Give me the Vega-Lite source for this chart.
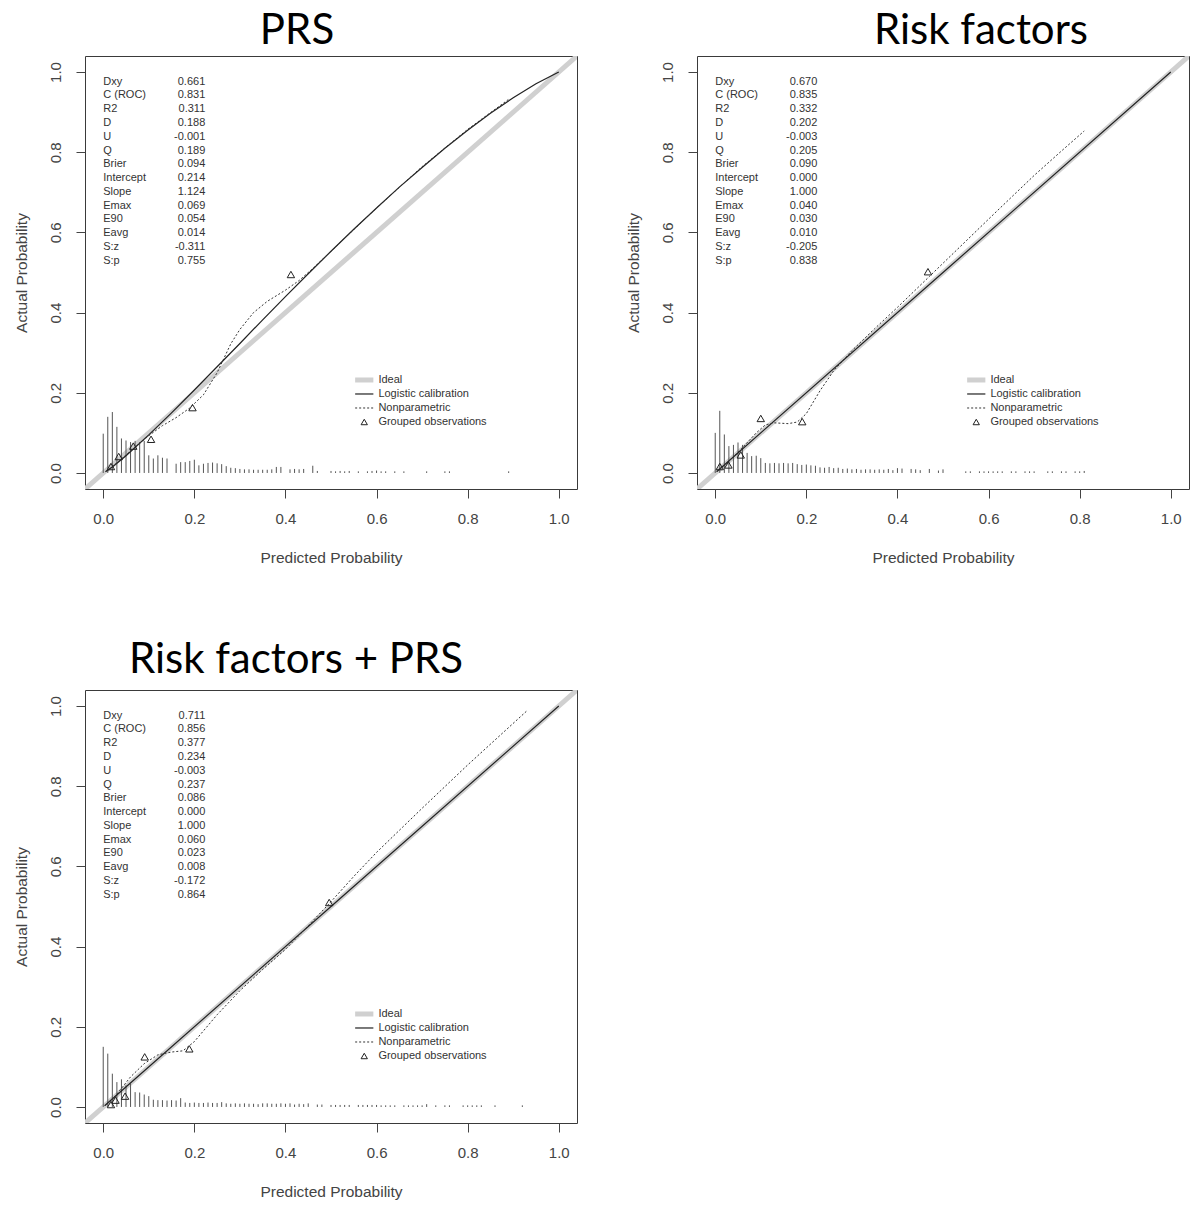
{
  "$schema": "https://vega.github.io/schema/vega-lite/v6.json",
  "padding": {"left": 13, "top": 9, "right": 0, "bottom": 0},
  "columns": 2,
  "spacing": {"row": 72, "column": 47},
  "config": {
    "font": "Liberation Sans",
    "view": {"stroke": "#3a3a3a", "strokeWidth": 1},
    "title": {"font": "Lato", "fontSize": 42, "fontWeight": "normal", "color": "#000000", "anchor": "middle", "baseline": "alphabetic", "frame": "group"},
    "axis": {"domain": false, "grid": false, "ticks": true, "tickSize": 9, "tickColor": "#444444", "labelFont": "Liberation Sans", "labelFontSize": 15, "labelColor": "#444444", "titleFont": "Liberation Sans", "titleFontSize": 15.5, "titleFontWeight": "normal", "titleColor": "#444444"},
    "axisX": {"labelPadding": 13, "titlePadding": 24},
    "axisY": {"labelAngle": -90, "labelAlign": "center", "labelBaseline": "bottom", "labelPadding": 13, "titlePadding": 19}
  },
  "datasets": {
    "ideal": [
      {"x": -0.04, "y": -0.04},
      {"x": 1.04, "y": 1.04}
    ],
    "legend": [
      {"k": 1, "s": "Ideal"},
      {"k": 2, "s": "Logistic calibration"},
      {"k": 3, "s": "Nonparametric"},
      {"k": 4, "s": "Grouped observations"}
    ],
    "curves": [
      {"p": "PRS", "s": "Logistic calibration", "x": 0.005, "y": 0.003},
      {"p": "PRS", "s": "Logistic calibration", "x": 0.02, "y": 0.015},
      {"p": "PRS", "s": "Logistic calibration", "x": 0.05, "y": 0.043},
      {"p": "PRS", "s": "Logistic calibration", "x": 0.1, "y": 0.095},
      {"p": "PRS", "s": "Logistic calibration", "x": 0.15, "y": 0.15},
      {"p": "PRS", "s": "Logistic calibration", "x": 0.2, "y": 0.207},
      {"p": "PRS", "s": "Logistic calibration", "x": 0.25, "y": 0.265},
      {"p": "PRS", "s": "Logistic calibration", "x": 0.3, "y": 0.323},
      {"p": "PRS", "s": "Logistic calibration", "x": 0.35, "y": 0.382},
      {"p": "PRS", "s": "Logistic calibration", "x": 0.4, "y": 0.44},
      {"p": "PRS", "s": "Logistic calibration", "x": 0.45, "y": 0.497},
      {"p": "PRS", "s": "Logistic calibration", "x": 0.5, "y": 0.553},
      {"p": "PRS", "s": "Logistic calibration", "x": 0.55, "y": 0.608},
      {"p": "PRS", "s": "Logistic calibration", "x": 0.6, "y": 0.661},
      {"p": "PRS", "s": "Logistic calibration", "x": 0.65, "y": 0.713},
      {"p": "PRS", "s": "Logistic calibration", "x": 0.7, "y": 0.762},
      {"p": "PRS", "s": "Logistic calibration", "x": 0.75, "y": 0.81},
      {"p": "PRS", "s": "Logistic calibration", "x": 0.8, "y": 0.855},
      {"p": "PRS", "s": "Logistic calibration", "x": 0.85, "y": 0.897},
      {"p": "PRS", "s": "Logistic calibration", "x": 0.9, "y": 0.936},
      {"p": "PRS", "s": "Logistic calibration", "x": 0.95, "y": 0.971},
      {"p": "PRS", "s": "Logistic calibration", "x": 1.0, "y": 1.0},
      {"p": "PRS", "s": "Nonparametric", "x": 0.005, "y": 0.004},
      {"p": "PRS", "s": "Nonparametric", "x": 0.03, "y": 0.025},
      {"p": "PRS", "s": "Nonparametric", "x": 0.06, "y": 0.055},
      {"p": "PRS", "s": "Nonparametric", "x": 0.1, "y": 0.093},
      {"p": "PRS", "s": "Nonparametric", "x": 0.13, "y": 0.118},
      {"p": "PRS", "s": "Nonparametric", "x": 0.16, "y": 0.138},
      {"p": "PRS", "s": "Nonparametric", "x": 0.19, "y": 0.162},
      {"p": "PRS", "s": "Nonparametric", "x": 0.22, "y": 0.195},
      {"p": "PRS", "s": "Nonparametric", "x": 0.25, "y": 0.25},
      {"p": "PRS", "s": "Nonparametric", "x": 0.28, "y": 0.322},
      {"p": "PRS", "s": "Nonparametric", "x": 0.3, "y": 0.358},
      {"p": "PRS", "s": "Nonparametric", "x": 0.33, "y": 0.4},
      {"p": "PRS", "s": "Nonparametric", "x": 0.36, "y": 0.428},
      {"p": "PRS", "s": "Nonparametric", "x": 0.4, "y": 0.456},
      {"p": "PRS", "s": "Nonparametric", "x": 0.43, "y": 0.48},
      {"p": "PRS", "s": "Nonparametric", "x": 0.46, "y": 0.51},
      {"p": "PRS", "s": "Nonparametric", "x": 0.5, "y": 0.553},
      {"p": "PRS", "s": "Nonparametric", "x": 0.6, "y": 0.661},
      {"p": "PRS", "s": "Nonparametric", "x": 0.7, "y": 0.764},
      {"p": "PRS", "s": "Nonparametric", "x": 0.8, "y": 0.857},
      {"p": "PRS", "s": "Nonparametric", "x": 0.89, "y": 0.932},
      {"p": "RF", "s": "Logistic calibration", "x": 0.003, "y": 0.003},
      {"p": "RF", "s": "Logistic calibration", "x": 0.5, "y": 0.5},
      {"p": "RF", "s": "Logistic calibration", "x": 1.0, "y": 1.0},
      {"p": "RF", "s": "Nonparametric", "x": 0.005, "y": 0.004},
      {"p": "RF", "s": "Nonparametric", "x": 0.03, "y": 0.03},
      {"p": "RF", "s": "Nonparametric", "x": 0.06, "y": 0.063},
      {"p": "RF", "s": "Nonparametric", "x": 0.09, "y": 0.1},
      {"p": "RF", "s": "Nonparametric", "x": 0.11, "y": 0.12},
      {"p": "RF", "s": "Nonparametric", "x": 0.13, "y": 0.125},
      {"p": "RF", "s": "Nonparametric", "x": 0.16, "y": 0.123},
      {"p": "RF", "s": "Nonparametric", "x": 0.18, "y": 0.127},
      {"p": "RF", "s": "Nonparametric", "x": 0.2, "y": 0.148},
      {"p": "RF", "s": "Nonparametric", "x": 0.23, "y": 0.205},
      {"p": "RF", "s": "Nonparametric", "x": 0.26, "y": 0.255},
      {"p": "RF", "s": "Nonparametric", "x": 0.3, "y": 0.305},
      {"p": "RF", "s": "Nonparametric", "x": 0.35, "y": 0.36},
      {"p": "RF", "s": "Nonparametric", "x": 0.4, "y": 0.413},
      {"p": "RF", "s": "Nonparametric", "x": 0.47, "y": 0.49},
      {"p": "RF", "s": "Nonparametric", "x": 0.55, "y": 0.578},
      {"p": "RF", "s": "Nonparametric", "x": 0.62, "y": 0.655},
      {"p": "RF", "s": "Nonparametric", "x": 0.7, "y": 0.742},
      {"p": "RF", "s": "Nonparametric", "x": 0.76, "y": 0.803},
      {"p": "RF", "s": "Nonparametric", "x": 0.81, "y": 0.853},
      {"p": "RFPRS", "s": "Logistic calibration", "x": 0.003, "y": 0.003},
      {"p": "RFPRS", "s": "Logistic calibration", "x": 0.5, "y": 0.5},
      {"p": "RFPRS", "s": "Logistic calibration", "x": 1.0, "y": 1.0},
      {"p": "RFPRS", "s": "Nonparametric", "x": 0.005, "y": 0.004},
      {"p": "RFPRS", "s": "Nonparametric", "x": 0.03, "y": 0.032},
      {"p": "RFPRS", "s": "Nonparametric", "x": 0.06, "y": 0.075},
      {"p": "RFPRS", "s": "Nonparametric", "x": 0.09, "y": 0.108},
      {"p": "RFPRS", "s": "Nonparametric", "x": 0.12, "y": 0.13},
      {"p": "RFPRS", "s": "Nonparametric", "x": 0.15, "y": 0.137},
      {"p": "RFPRS", "s": "Nonparametric", "x": 0.175, "y": 0.14},
      {"p": "RFPRS", "s": "Nonparametric", "x": 0.2, "y": 0.163},
      {"p": "RFPRS", "s": "Nonparametric", "x": 0.25, "y": 0.23},
      {"p": "RFPRS", "s": "Nonparametric", "x": 0.3, "y": 0.29},
      {"p": "RFPRS", "s": "Nonparametric", "x": 0.35, "y": 0.343},
      {"p": "RFPRS", "s": "Nonparametric", "x": 0.4, "y": 0.393},
      {"p": "RFPRS", "s": "Nonparametric", "x": 0.45, "y": 0.452},
      {"p": "RFPRS", "s": "Nonparametric", "x": 0.5, "y": 0.512},
      {"p": "RFPRS", "s": "Nonparametric", "x": 0.55, "y": 0.575},
      {"p": "RFPRS", "s": "Nonparametric", "x": 0.6, "y": 0.635},
      {"p": "RFPRS", "s": "Nonparametric", "x": 0.7, "y": 0.745},
      {"p": "RFPRS", "s": "Nonparametric", "x": 0.8, "y": 0.853},
      {"p": "RFPRS", "s": "Nonparametric", "x": 0.93, "y": 0.988}
    ],
    "groups": [
      {"p": "PRS", "x": 0.017, "y": 0.016},
      {"p": "PRS", "x": 0.034, "y": 0.041},
      {"p": "PRS", "x": 0.066, "y": 0.067},
      {"p": "PRS", "x": 0.105, "y": 0.084},
      {"p": "PRS", "x": 0.196, "y": 0.163},
      {"p": "PRS", "x": 0.412, "y": 0.495},
      {"p": "RF", "x": 0.01, "y": 0.016},
      {"p": "RF", "x": 0.029, "y": 0.02},
      {"p": "RF", "x": 0.056, "y": 0.045},
      {"p": "RF", "x": 0.1, "y": 0.136},
      {"p": "RF", "x": 0.191, "y": 0.128},
      {"p": "RF", "x": 0.467, "y": 0.502},
      {"p": "RFPRS", "x": 0.017, "y": 0.006},
      {"p": "RFPRS", "x": 0.027, "y": 0.017},
      {"p": "RFPRS", "x": 0.048, "y": 0.027},
      {"p": "RFPRS", "x": 0.091, "y": 0.125},
      {"p": "RFPRS", "x": 0.189, "y": 0.145},
      {"p": "RFPRS", "x": 0.496, "y": 0.51}
    ],
    "spikes": [
      {"p": "PRS", "x": 0.0, "h": 0.098}, {"p": "PRS", "x": 0.01, "h": 0.14}, {"p": "PRS", "x": 0.02, "h": 0.152}, {"p": "PRS", "x": 0.03, "h": 0.115},
      {"p": "PRS", "x": 0.04, "h": 0.086}, {"p": "PRS", "x": 0.05, "h": 0.081}, {"p": "PRS", "x": 0.06, "h": 0.077}, {"p": "PRS", "x": 0.07, "h": 0.08},
      {"p": "PRS", "x": 0.08, "h": 0.077}, {"p": "PRS", "x": 0.09, "h": 0.08}, {"p": "PRS", "x": 0.1, "h": 0.044}, {"p": "PRS", "x": 0.11, "h": 0.036},
      {"p": "PRS", "x": 0.12, "h": 0.044}, {"p": "PRS", "x": 0.13, "h": 0.038}, {"p": "PRS", "x": 0.14, "h": 0.036}, {"p": "PRS", "x": 0.16, "h": 0.023},
      {"p": "PRS", "x": 0.17, "h": 0.027}, {"p": "PRS", "x": 0.18, "h": 0.027}, {"p": "PRS", "x": 0.19, "h": 0.03}, {"p": "PRS", "x": 0.2, "h": 0.033},
      {"p": "PRS", "x": 0.21, "h": 0.019}, {"p": "PRS", "x": 0.22, "h": 0.023}, {"p": "PRS", "x": 0.23, "h": 0.025}, {"p": "PRS", "x": 0.24, "h": 0.026},
      {"p": "PRS", "x": 0.25, "h": 0.024}, {"p": "PRS", "x": 0.26, "h": 0.022}, {"p": "PRS", "x": 0.27, "h": 0.017}, {"p": "PRS", "x": 0.28, "h": 0.013},
      {"p": "PRS", "x": 0.29, "h": 0.012}, {"p": "PRS", "x": 0.3, "h": 0.01}, {"p": "PRS", "x": 0.31, "h": 0.009}, {"p": "PRS", "x": 0.32, "h": 0.009},
      {"p": "PRS", "x": 0.33, "h": 0.008}, {"p": "PRS", "x": 0.34, "h": 0.008}, {"p": "PRS", "x": 0.35, "h": 0.008}, {"p": "PRS", "x": 0.36, "h": 0.008},
      {"p": "PRS", "x": 0.37, "h": 0.009}, {"p": "PRS", "x": 0.38, "h": 0.015}, {"p": "PRS", "x": 0.39, "h": 0.015}, {"p": "PRS", "x": 0.41, "h": 0.009},
      {"p": "PRS", "x": 0.42, "h": 0.01}, {"p": "PRS", "x": 0.43, "h": 0.009}, {"p": "PRS", "x": 0.44, "h": 0.01}, {"p": "PRS", "x": 0.46, "h": 0.018},
      {"p": "PRS", "x": 0.47, "h": 0.005}, {"p": "PRS", "x": 0.5, "h": 0.005}, {"p": "PRS", "x": 0.51, "h": 0.004}, {"p": "PRS", "x": 0.52, "h": 0.005},
      {"p": "PRS", "x": 0.53, "h": 0.004}, {"p": "PRS", "x": 0.54, "h": 0.005}, {"p": "PRS", "x": 0.56, "h": 0.004}, {"p": "PRS", "x": 0.58, "h": 0.004},
      {"p": "PRS", "x": 0.59, "h": 0.005}, {"p": "PRS", "x": 0.6, "h": 0.006}, {"p": "PRS", "x": 0.61, "h": 0.004}, {"p": "PRS", "x": 0.62, "h": 0.004},
      {"p": "PRS", "x": 0.64, "h": 0.004}, {"p": "PRS", "x": 0.66, "h": 0.004}, {"p": "PRS", "x": 0.71, "h": 0.004}, {"p": "PRS", "x": 0.75, "h": 0.004},
      {"p": "PRS", "x": 0.76, "h": 0.004}, {"p": "PRS", "x": 0.89, "h": 0.004},
      {"p": "RF", "x": 0.0, "h": 0.1}, {"p": "RF", "x": 0.01, "h": 0.155}, {"p": "RF", "x": 0.02, "h": 0.096}, {"p": "RF", "x": 0.03, "h": 0.067},
      {"p": "RF", "x": 0.04, "h": 0.07}, {"p": "RF", "x": 0.05, "h": 0.076}, {"p": "RF", "x": 0.06, "h": 0.07}, {"p": "RF", "x": 0.07, "h": 0.05},
      {"p": "RF", "x": 0.08, "h": 0.042}, {"p": "RF", "x": 0.09, "h": 0.043}, {"p": "RF", "x": 0.1, "h": 0.037}, {"p": "RF", "x": 0.11, "h": 0.025},
      {"p": "RF", "x": 0.12, "h": 0.024}, {"p": "RF", "x": 0.13, "h": 0.025}, {"p": "RF", "x": 0.14, "h": 0.024}, {"p": "RF", "x": 0.15, "h": 0.025},
      {"p": "RF", "x": 0.16, "h": 0.024}, {"p": "RF", "x": 0.17, "h": 0.025}, {"p": "RF", "x": 0.18, "h": 0.022}, {"p": "RF", "x": 0.19, "h": 0.02},
      {"p": "RF", "x": 0.2, "h": 0.021}, {"p": "RF", "x": 0.21, "h": 0.019}, {"p": "RF", "x": 0.22, "h": 0.018}, {"p": "RF", "x": 0.23, "h": 0.014},
      {"p": "RF", "x": 0.24, "h": 0.013}, {"p": "RF", "x": 0.25, "h": 0.015}, {"p": "RF", "x": 0.26, "h": 0.012}, {"p": "RF", "x": 0.27, "h": 0.013},
      {"p": "RF", "x": 0.28, "h": 0.01}, {"p": "RF", "x": 0.29, "h": 0.011}, {"p": "RF", "x": 0.3, "h": 0.009}, {"p": "RF", "x": 0.31, "h": 0.01},
      {"p": "RF", "x": 0.32, "h": 0.008}, {"p": "RF", "x": 0.33, "h": 0.009}, {"p": "RF", "x": 0.34, "h": 0.009}, {"p": "RF", "x": 0.35, "h": 0.008},
      {"p": "RF", "x": 0.36, "h": 0.009}, {"p": "RF", "x": 0.37, "h": 0.008}, {"p": "RF", "x": 0.38, "h": 0.01}, {"p": "RF", "x": 0.39, "h": 0.007},
      {"p": "RF", "x": 0.4, "h": 0.012}, {"p": "RF", "x": 0.41, "h": 0.011}, {"p": "RF", "x": 0.43, "h": 0.01}, {"p": "RF", "x": 0.44, "h": 0.009},
      {"p": "RF", "x": 0.45, "h": 0.007}, {"p": "RF", "x": 0.47, "h": 0.01}, {"p": "RF", "x": 0.49, "h": 0.006}, {"p": "RF", "x": 0.5, "h": 0.009},
      {"p": "RF", "x": 0.55, "h": 0.004}, {"p": "RF", "x": 0.56, "h": 0.004}, {"p": "RF", "x": 0.58, "h": 0.004}, {"p": "RF", "x": 0.59, "h": 0.004},
      {"p": "RF", "x": 0.6, "h": 0.004}, {"p": "RF", "x": 0.61, "h": 0.004}, {"p": "RF", "x": 0.62, "h": 0.004}, {"p": "RF", "x": 0.63, "h": 0.004},
      {"p": "RF", "x": 0.65, "h": 0.004}, {"p": "RF", "x": 0.66, "h": 0.004}, {"p": "RF", "x": 0.68, "h": 0.004}, {"p": "RF", "x": 0.69, "h": 0.004},
      {"p": "RF", "x": 0.7, "h": 0.004}, {"p": "RF", "x": 0.73, "h": 0.004}, {"p": "RF", "x": 0.74, "h": 0.004}, {"p": "RF", "x": 0.76, "h": 0.004},
      {"p": "RF", "x": 0.77, "h": 0.004}, {"p": "RF", "x": 0.79, "h": 0.004}, {"p": "RF", "x": 0.8, "h": 0.004}, {"p": "RF", "x": 0.81, "h": 0.005},
      {"p": "RFPRS", "x": 0.0, "h": 0.15}, {"p": "RFPRS", "x": 0.01, "h": 0.133}, {"p": "RFPRS", "x": 0.02, "h": 0.083}, {"p": "RFPRS", "x": 0.03, "h": 0.062},
      {"p": "RFPRS", "x": 0.04, "h": 0.069}, {"p": "RFPRS", "x": 0.05, "h": 0.054}, {"p": "RFPRS", "x": 0.06, "h": 0.058}, {"p": "RFPRS", "x": 0.07, "h": 0.037},
      {"p": "RFPRS", "x": 0.08, "h": 0.036}, {"p": "RFPRS", "x": 0.09, "h": 0.031}, {"p": "RFPRS", "x": 0.1, "h": 0.027}, {"p": "RFPRS", "x": 0.11, "h": 0.018},
      {"p": "RFPRS", "x": 0.12, "h": 0.017}, {"p": "RFPRS", "x": 0.13, "h": 0.017}, {"p": "RFPRS", "x": 0.14, "h": 0.016}, {"p": "RFPRS", "x": 0.15, "h": 0.017},
      {"p": "RFPRS", "x": 0.16, "h": 0.016}, {"p": "RFPRS", "x": 0.17, "h": 0.022}, {"p": "RFPRS", "x": 0.18, "h": 0.011}, {"p": "RFPRS", "x": 0.19, "h": 0.01},
      {"p": "RFPRS", "x": 0.2, "h": 0.011}, {"p": "RFPRS", "x": 0.21, "h": 0.01}, {"p": "RFPRS", "x": 0.22, "h": 0.01}, {"p": "RFPRS", "x": 0.23, "h": 0.011},
      {"p": "RFPRS", "x": 0.24, "h": 0.01}, {"p": "RFPRS", "x": 0.25, "h": 0.01}, {"p": "RFPRS", "x": 0.26, "h": 0.012}, {"p": "RFPRS", "x": 0.27, "h": 0.009},
      {"p": "RFPRS", "x": 0.28, "h": 0.008}, {"p": "RFPRS", "x": 0.29, "h": 0.009}, {"p": "RFPRS", "x": 0.3, "h": 0.008}, {"p": "RFPRS", "x": 0.31, "h": 0.009},
      {"p": "RFPRS", "x": 0.32, "h": 0.008}, {"p": "RFPRS", "x": 0.33, "h": 0.008}, {"p": "RFPRS", "x": 0.34, "h": 0.007}, {"p": "RFPRS", "x": 0.35, "h": 0.009},
      {"p": "RFPRS", "x": 0.36, "h": 0.009}, {"p": "RFPRS", "x": 0.37, "h": 0.008}, {"p": "RFPRS", "x": 0.38, "h": 0.008}, {"p": "RFPRS", "x": 0.39, "h": 0.009},
      {"p": "RFPRS", "x": 0.4, "h": 0.008}, {"p": "RFPRS", "x": 0.41, "h": 0.009}, {"p": "RFPRS", "x": 0.42, "h": 0.006}, {"p": "RFPRS", "x": 0.43, "h": 0.008},
      {"p": "RFPRS", "x": 0.44, "h": 0.007}, {"p": "RFPRS", "x": 0.45, "h": 0.009}, {"p": "RFPRS", "x": 0.47, "h": 0.006}, {"p": "RFPRS", "x": 0.48, "h": 0.006},
      {"p": "RFPRS", "x": 0.5, "h": 0.005}, {"p": "RFPRS", "x": 0.51, "h": 0.005}, {"p": "RFPRS", "x": 0.52, "h": 0.005}, {"p": "RFPRS", "x": 0.53, "h": 0.005},
      {"p": "RFPRS", "x": 0.54, "h": 0.005}, {"p": "RFPRS", "x": 0.56, "h": 0.005}, {"p": "RFPRS", "x": 0.57, "h": 0.005}, {"p": "RFPRS", "x": 0.58, "h": 0.005},
      {"p": "RFPRS", "x": 0.59, "h": 0.005}, {"p": "RFPRS", "x": 0.6, "h": 0.005}, {"p": "RFPRS", "x": 0.61, "h": 0.004}, {"p": "RFPRS", "x": 0.62, "h": 0.004},
      {"p": "RFPRS", "x": 0.63, "h": 0.004}, {"p": "RFPRS", "x": 0.64, "h": 0.004}, {"p": "RFPRS", "x": 0.66, "h": 0.004}, {"p": "RFPRS", "x": 0.67, "h": 0.004},
      {"p": "RFPRS", "x": 0.68, "h": 0.004}, {"p": "RFPRS", "x": 0.69, "h": 0.004}, {"p": "RFPRS", "x": 0.7, "h": 0.004}, {"p": "RFPRS", "x": 0.71, "h": 0.007},
      {"p": "RFPRS", "x": 0.73, "h": 0.004}, {"p": "RFPRS", "x": 0.75, "h": 0.004}, {"p": "RFPRS", "x": 0.76, "h": 0.004}, {"p": "RFPRS", "x": 0.79, "h": 0.004},
      {"p": "RFPRS", "x": 0.8, "h": 0.004}, {"p": "RFPRS", "x": 0.81, "h": 0.004}, {"p": "RFPRS", "x": 0.82, "h": 0.004}, {"p": "RFPRS", "x": 0.83, "h": 0.004},
      {"p": "RFPRS", "x": 0.86, "h": 0.004}, {"p": "RFPRS", "x": 0.92, "h": 0.004}
    ],
    "stats": [
      {"p": "PRS", "r": 1, "n": "Dxy", "v": "0.661"}, {"p": "PRS", "r": 2, "n": "C (ROC)", "v": "0.831"}, {"p": "PRS", "r": 3, "n": "R2", "v": "0.311"},
      {"p": "PRS", "r": 4, "n": "D", "v": "0.188"}, {"p": "PRS", "r": 5, "n": "U", "v": "-0.001"}, {"p": "PRS", "r": 6, "n": "Q", "v": "0.189"},
      {"p": "PRS", "r": 7, "n": "Brier", "v": "0.094"}, {"p": "PRS", "r": 8, "n": "Intercept", "v": "0.214"}, {"p": "PRS", "r": 9, "n": "Slope", "v": "1.124"},
      {"p": "PRS", "r": 10, "n": "Emax", "v": "0.069"}, {"p": "PRS", "r": 11, "n": "E90", "v": "0.054"}, {"p": "PRS", "r": 12, "n": "Eavg", "v": "0.014"},
      {"p": "PRS", "r": 13, "n": "S:z", "v": "-0.311"}, {"p": "PRS", "r": 14, "n": "S:p", "v": "0.755"},
      {"p": "RF", "r": 1, "n": "Dxy", "v": "0.670"}, {"p": "RF", "r": 2, "n": "C (ROC)", "v": "0.835"}, {"p": "RF", "r": 3, "n": "R2", "v": "0.332"},
      {"p": "RF", "r": 4, "n": "D", "v": "0.202"}, {"p": "RF", "r": 5, "n": "U", "v": "-0.003"}, {"p": "RF", "r": 6, "n": "Q", "v": "0.205"},
      {"p": "RF", "r": 7, "n": "Brier", "v": "0.090"}, {"p": "RF", "r": 8, "n": "Intercept", "v": "0.000"}, {"p": "RF", "r": 9, "n": "Slope", "v": "1.000"},
      {"p": "RF", "r": 10, "n": "Emax", "v": "0.040"}, {"p": "RF", "r": 11, "n": "E90", "v": "0.030"}, {"p": "RF", "r": 12, "n": "Eavg", "v": "0.010"},
      {"p": "RF", "r": 13, "n": "S:z", "v": "-0.205"}, {"p": "RF", "r": 14, "n": "S:p", "v": "0.838"},
      {"p": "RFPRS", "r": 1, "n": "Dxy", "v": "0.711"}, {"p": "RFPRS", "r": 2, "n": "C (ROC)", "v": "0.856"}, {"p": "RFPRS", "r": 3, "n": "R2", "v": "0.377"},
      {"p": "RFPRS", "r": 4, "n": "D", "v": "0.234"}, {"p": "RFPRS", "r": 5, "n": "U", "v": "-0.003"}, {"p": "RFPRS", "r": 6, "n": "Q", "v": "0.237"},
      {"p": "RFPRS", "r": 7, "n": "Brier", "v": "0.086"}, {"p": "RFPRS", "r": 8, "n": "Intercept", "v": "0.000"}, {"p": "RFPRS", "r": 9, "n": "Slope", "v": "1.000"},
      {"p": "RFPRS", "r": 10, "n": "Emax", "v": "0.060"}, {"p": "RFPRS", "r": 11, "n": "E90", "v": "0.023"}, {"p": "RFPRS", "r": 12, "n": "Eavg", "v": "0.008"},
      {"p": "RFPRS", "r": 13, "n": "S:z", "v": "-0.172"}, {"p": "RFPRS", "r": 14, "n": "S:p", "v": "0.864"}
    ]
  },
  "concat": [
    {
      "width": 492, "height": 433,
      "title": {"text": "PRS", "dx": -34, "offset": 3},
      "resolve": {"scale": {"y": "independent"}},
      "layer": [
        {
          "layer": [
            {
              "data": {"name": "ideal"},
              "mark": {"type": "line", "strokeWidth": 5, "color": "#d0d0d0", "clip": true},
              "encoding": {
                "x": {"field": "x", "type": "quantitative", "scale": {"domain": [-0.04, 1.04], "nice": false, "zero": false}, "axis": {"values": [0, 0.2, 0.4, 0.6, 0.8, 1], "format": ".1f", "title": "Predicted Probability"}},
                "y": {"field": "y", "type": "quantitative", "scale": {"domain": [-0.04, 1.04], "nice": false, "zero": false}, "axis": {"values": [0, 0.2, 0.4, 0.6, 0.8, 1], "format": ".1f", "title": "Actual Probability"}}
              }
            },
            {
              "data": {"name": "spikes"}, "transform": [{"filter": "datum.p === 'PRS'"}],
              "mark": {"type": "rule", "color": "#555555", "strokeWidth": 1},
              "encoding": {"x": {"field": "x", "type": "quantitative"}, "y": {"field": "h", "type": "quantitative"}, "y2": {"datum": 0}}
            },
            {
              "data": {"name": "curves"}, "transform": [{"filter": "datum.p === 'PRS' && datum.s === 'Logistic calibration'"}],
              "mark": {"type": "line", "color": "#222222", "strokeWidth": 1.2},
              "encoding": {"x": {"field": "x", "type": "quantitative"}, "y": {"field": "y", "type": "quantitative"}}
            },
            {
              "data": {"name": "curves"}, "transform": [{"filter": "datum.p === 'PRS' && datum.s === 'Nonparametric'"}],
              "mark": {"type": "line", "color": "#333333", "strokeWidth": 1, "strokeDash": [2, 2]},
              "encoding": {"x": {"field": "x", "type": "quantitative"}, "y": {"field": "y", "type": "quantitative"}}
            },
            {
              "data": {"name": "groups"}, "transform": [{"filter": "datum.p === 'PRS'"}],
              "mark": {"type": "point", "shape": "triangle-up", "filled": false, "color": "#222222", "size": 55, "strokeWidth": 1, "opacity": 1},
              "encoding": {"x": {"field": "x", "type": "quantitative"}, "y": {"field": "y", "type": "quantitative"}}
            }
          ]
        },
        {
          "data": {"name": "stats"}, "transform": [{"filter": "datum.p === 'PRS'"}],
          "layer": [
            {
              "mark": {"type": "text", "align": "left", "baseline": "middle", "font": "Liberation Sans", "fontSize": 11, "color": "#333333"},
              "encoding": {"x": {"datum": 0, "type": "quantitative"}, "y": {"field": "r", "type": "quantitative", "scale": {"domain": [-0.866, 30.58], "reverse": true, "nice": false, "zero": false}, "axis": null}, "text": {"field": "n"}}
            },
            {
              "mark": {"type": "text", "align": "right", "baseline": "middle", "font": "Liberation Sans", "fontSize": 11, "color": "#333333"},
              "encoding": {"x": {"datum": 0.224, "type": "quantitative"}, "y": {"field": "r", "type": "quantitative", "axis": null}, "text": {"field": "v"}}
            }
          ]
        },
        {
          "data": {"name": "legend"},
          "layer": [
            {
              "transform": [{"filter": "datum.s === 'Ideal'"}],
              "mark": {"type": "rule", "color": "#d0d0d0", "strokeWidth": 5},
              "encoding": {"x": {"datum": 0.553, "type": "quantitative"}, "x2": {"datum": 0.593}, "y": {"field": "k", "type": "quantitative", "scale": {"domain": [-22.14, 8.786], "reverse": true, "nice": false, "zero": false}, "axis": null}}
            },
            {
              "transform": [{"filter": "datum.s === 'Logistic calibration'"}],
              "mark": {"type": "rule", "color": "#222222", "strokeWidth": 1.2},
              "encoding": {"x": {"datum": 0.553, "type": "quantitative"}, "x2": {"datum": 0.593}, "y": {"field": "k", "type": "quantitative", "axis": null}}
            },
            {
              "transform": [{"filter": "datum.s === 'Nonparametric'"}],
              "mark": {"type": "rule", "color": "#333333", "strokeWidth": 1, "strokeDash": [2, 2]},
              "encoding": {"x": {"datum": 0.553, "type": "quantitative"}, "x2": {"datum": 0.593}, "y": {"field": "k", "type": "quantitative", "axis": null}}
            },
            {
              "transform": [{"filter": "datum.s === 'Grouped observations'"}],
              "mark": {"type": "point", "shape": "triangle-up", "filled": false, "color": "#222222", "size": 40, "strokeWidth": 1, "opacity": 1},
              "encoding": {"x": {"datum": 0.573, "type": "quantitative"}, "y": {"field": "k", "type": "quantitative", "axis": null}}
            },
            {
              "mark": {"type": "text", "align": "left", "baseline": "middle", "font": "Liberation Sans", "fontSize": 11, "color": "#333333"},
              "encoding": {"x": {"datum": 0.604, "type": "quantitative"}, "y": {"field": "k", "type": "quantitative", "axis": null}, "text": {"field": "s"}}
            }
          ]
        }
      ]
    },
    {
      "width": 492, "height": 433,
      "title": {"text": "Risk factors", "dx": 38, "offset": 3},
      "resolve": {"scale": {"y": "independent"}},
      "layer": [
        {
          "layer": [
            {
              "data": {"name": "ideal"},
              "mark": {"type": "line", "strokeWidth": 5, "color": "#d0d0d0", "clip": true},
              "encoding": {
                "x": {"field": "x", "type": "quantitative", "scale": {"domain": [-0.04, 1.04], "nice": false, "zero": false}, "axis": {"values": [0, 0.2, 0.4, 0.6, 0.8, 1], "format": ".1f", "title": "Predicted Probability"}},
                "y": {"field": "y", "type": "quantitative", "scale": {"domain": [-0.04, 1.04], "nice": false, "zero": false}, "axis": {"values": [0, 0.2, 0.4, 0.6, 0.8, 1], "format": ".1f", "title": "Actual Probability"}}
              }
            },
            {
              "data": {"name": "spikes"}, "transform": [{"filter": "datum.p === 'RF'"}],
              "mark": {"type": "rule", "color": "#555555", "strokeWidth": 1},
              "encoding": {"x": {"field": "x", "type": "quantitative"}, "y": {"field": "h", "type": "quantitative"}, "y2": {"datum": 0}}
            },
            {
              "data": {"name": "curves"}, "transform": [{"filter": "datum.p === 'RF' && datum.s === 'Logistic calibration'"}],
              "mark": {"type": "line", "color": "#222222", "strokeWidth": 1.2},
              "encoding": {"x": {"field": "x", "type": "quantitative"}, "y": {"field": "y", "type": "quantitative"}}
            },
            {
              "data": {"name": "curves"}, "transform": [{"filter": "datum.p === 'RF' && datum.s === 'Nonparametric'"}],
              "mark": {"type": "line", "color": "#333333", "strokeWidth": 1, "strokeDash": [2, 2]},
              "encoding": {"x": {"field": "x", "type": "quantitative"}, "y": {"field": "y", "type": "quantitative"}}
            },
            {
              "data": {"name": "groups"}, "transform": [{"filter": "datum.p === 'RF'"}],
              "mark": {"type": "point", "shape": "triangle-up", "filled": false, "color": "#222222", "size": 55, "strokeWidth": 1, "opacity": 1},
              "encoding": {"x": {"field": "x", "type": "quantitative"}, "y": {"field": "y", "type": "quantitative"}}
            }
          ]
        },
        {
          "data": {"name": "stats"}, "transform": [{"filter": "datum.p === 'RF'"}],
          "layer": [
            {
              "mark": {"type": "text", "align": "left", "baseline": "middle", "font": "Liberation Sans", "fontSize": 11, "color": "#333333"},
              "encoding": {"x": {"datum": 0, "type": "quantitative"}, "y": {"field": "r", "type": "quantitative", "scale": {"domain": [-0.866, 30.58], "reverse": true, "nice": false, "zero": false}, "axis": null}, "text": {"field": "n"}}
            },
            {
              "mark": {"type": "text", "align": "right", "baseline": "middle", "font": "Liberation Sans", "fontSize": 11, "color": "#333333"},
              "encoding": {"x": {"datum": 0.224, "type": "quantitative"}, "y": {"field": "r", "type": "quantitative", "axis": null}, "text": {"field": "v"}}
            }
          ]
        },
        {
          "data": {"name": "legend"},
          "layer": [
            {
              "transform": [{"filter": "datum.s === 'Ideal'"}],
              "mark": {"type": "rule", "color": "#d0d0d0", "strokeWidth": 5},
              "encoding": {"x": {"datum": 0.553, "type": "quantitative"}, "x2": {"datum": 0.593}, "y": {"field": "k", "type": "quantitative", "scale": {"domain": [-22.14, 8.786], "reverse": true, "nice": false, "zero": false}, "axis": null}}
            },
            {
              "transform": [{"filter": "datum.s === 'Logistic calibration'"}],
              "mark": {"type": "rule", "color": "#222222", "strokeWidth": 1.2},
              "encoding": {"x": {"datum": 0.553, "type": "quantitative"}, "x2": {"datum": 0.593}, "y": {"field": "k", "type": "quantitative", "axis": null}}
            },
            {
              "transform": [{"filter": "datum.s === 'Nonparametric'"}],
              "mark": {"type": "rule", "color": "#333333", "strokeWidth": 1, "strokeDash": [2, 2]},
              "encoding": {"x": {"datum": 0.553, "type": "quantitative"}, "x2": {"datum": 0.593}, "y": {"field": "k", "type": "quantitative", "axis": null}}
            },
            {
              "transform": [{"filter": "datum.s === 'Grouped observations'"}],
              "mark": {"type": "point", "shape": "triangle-up", "filled": false, "color": "#222222", "size": 40, "strokeWidth": 1, "opacity": 1},
              "encoding": {"x": {"datum": 0.573, "type": "quantitative"}, "y": {"field": "k", "type": "quantitative", "axis": null}}
            },
            {
              "mark": {"type": "text", "align": "left", "baseline": "middle", "font": "Liberation Sans", "fontSize": 11, "color": "#333333"},
              "encoding": {"x": {"datum": 0.604, "type": "quantitative"}, "y": {"field": "k", "type": "quantitative", "axis": null}, "text": {"field": "s"}}
            }
          ]
        }
      ]
    },
    {
      "width": 492, "height": 433,
      "title": {"text": "Risk factors + PRS", "dx": -35, "offset": 8},
      "resolve": {"scale": {"y": "independent"}},
      "layer": [
        {
          "layer": [
            {
              "data": {"name": "ideal"},
              "mark": {"type": "line", "strokeWidth": 5, "color": "#d0d0d0", "clip": true},
              "encoding": {
                "x": {"field": "x", "type": "quantitative", "scale": {"domain": [-0.04, 1.04], "nice": false, "zero": false}, "axis": {"values": [0, 0.2, 0.4, 0.6, 0.8, 1], "format": ".1f", "title": "Predicted Probability"}},
                "y": {"field": "y", "type": "quantitative", "scale": {"domain": [-0.04, 1.04], "nice": false, "zero": false}, "axis": {"values": [0, 0.2, 0.4, 0.6, 0.8, 1], "format": ".1f", "title": "Actual Probability"}}
              }
            },
            {
              "data": {"name": "spikes"}, "transform": [{"filter": "datum.p === 'RFPRS'"}],
              "mark": {"type": "rule", "color": "#555555", "strokeWidth": 1},
              "encoding": {"x": {"field": "x", "type": "quantitative"}, "y": {"field": "h", "type": "quantitative"}, "y2": {"datum": 0}}
            },
            {
              "data": {"name": "curves"}, "transform": [{"filter": "datum.p === 'RFPRS' && datum.s === 'Logistic calibration'"}],
              "mark": {"type": "line", "color": "#222222", "strokeWidth": 1.2},
              "encoding": {"x": {"field": "x", "type": "quantitative"}, "y": {"field": "y", "type": "quantitative"}}
            },
            {
              "data": {"name": "curves"}, "transform": [{"filter": "datum.p === 'RFPRS' && datum.s === 'Nonparametric'"}],
              "mark": {"type": "line", "color": "#333333", "strokeWidth": 1, "strokeDash": [2, 2]},
              "encoding": {"x": {"field": "x", "type": "quantitative"}, "y": {"field": "y", "type": "quantitative"}}
            },
            {
              "data": {"name": "groups"}, "transform": [{"filter": "datum.p === 'RFPRS'"}],
              "mark": {"type": "point", "shape": "triangle-up", "filled": false, "color": "#222222", "size": 55, "strokeWidth": 1, "opacity": 1},
              "encoding": {"x": {"field": "x", "type": "quantitative"}, "y": {"field": "y", "type": "quantitative"}}
            }
          ]
        },
        {
          "data": {"name": "stats"}, "transform": [{"filter": "datum.p === 'RFPRS'"}],
          "layer": [
            {
              "mark": {"type": "text", "align": "left", "baseline": "middle", "font": "Liberation Sans", "fontSize": 11, "color": "#333333"},
              "encoding": {"x": {"datum": 0, "type": "quantitative"}, "y": {"field": "r", "type": "quantitative", "scale": {"domain": [-0.866, 30.58], "reverse": true, "nice": false, "zero": false}, "axis": null}, "text": {"field": "n"}}
            },
            {
              "mark": {"type": "text", "align": "right", "baseline": "middle", "font": "Liberation Sans", "fontSize": 11, "color": "#333333"},
              "encoding": {"x": {"datum": 0.224, "type": "quantitative"}, "y": {"field": "r", "type": "quantitative", "axis": null}, "text": {"field": "v"}}
            }
          ]
        },
        {
          "data": {"name": "legend"},
          "layer": [
            {
              "transform": [{"filter": "datum.s === 'Ideal'"}],
              "mark": {"type": "rule", "color": "#d0d0d0", "strokeWidth": 5},
              "encoding": {"x": {"datum": 0.553, "type": "quantitative"}, "x2": {"datum": 0.593}, "y": {"field": "k", "type": "quantitative", "scale": {"domain": [-22.14, 8.786], "reverse": true, "nice": false, "zero": false}, "axis": null}}
            },
            {
              "transform": [{"filter": "datum.s === 'Logistic calibration'"}],
              "mark": {"type": "rule", "color": "#222222", "strokeWidth": 1.2},
              "encoding": {"x": {"datum": 0.553, "type": "quantitative"}, "x2": {"datum": 0.593}, "y": {"field": "k", "type": "quantitative", "axis": null}}
            },
            {
              "transform": [{"filter": "datum.s === 'Nonparametric'"}],
              "mark": {"type": "rule", "color": "#333333", "strokeWidth": 1, "strokeDash": [2, 2]},
              "encoding": {"x": {"datum": 0.553, "type": "quantitative"}, "x2": {"datum": 0.593}, "y": {"field": "k", "type": "quantitative", "axis": null}}
            },
            {
              "transform": [{"filter": "datum.s === 'Grouped observations'"}],
              "mark": {"type": "point", "shape": "triangle-up", "filled": false, "color": "#222222", "size": 40, "strokeWidth": 1, "opacity": 1},
              "encoding": {"x": {"datum": 0.573, "type": "quantitative"}, "y": {"field": "k", "type": "quantitative", "axis": null}}
            },
            {
              "mark": {"type": "text", "align": "left", "baseline": "middle", "font": "Liberation Sans", "fontSize": 11, "color": "#333333"},
              "encoding": {"x": {"datum": 0.604, "type": "quantitative"}, "y": {"field": "k", "type": "quantitative", "axis": null}, "text": {"field": "s"}}
            }
          ]
        }
      ]
    }
  ]
}
